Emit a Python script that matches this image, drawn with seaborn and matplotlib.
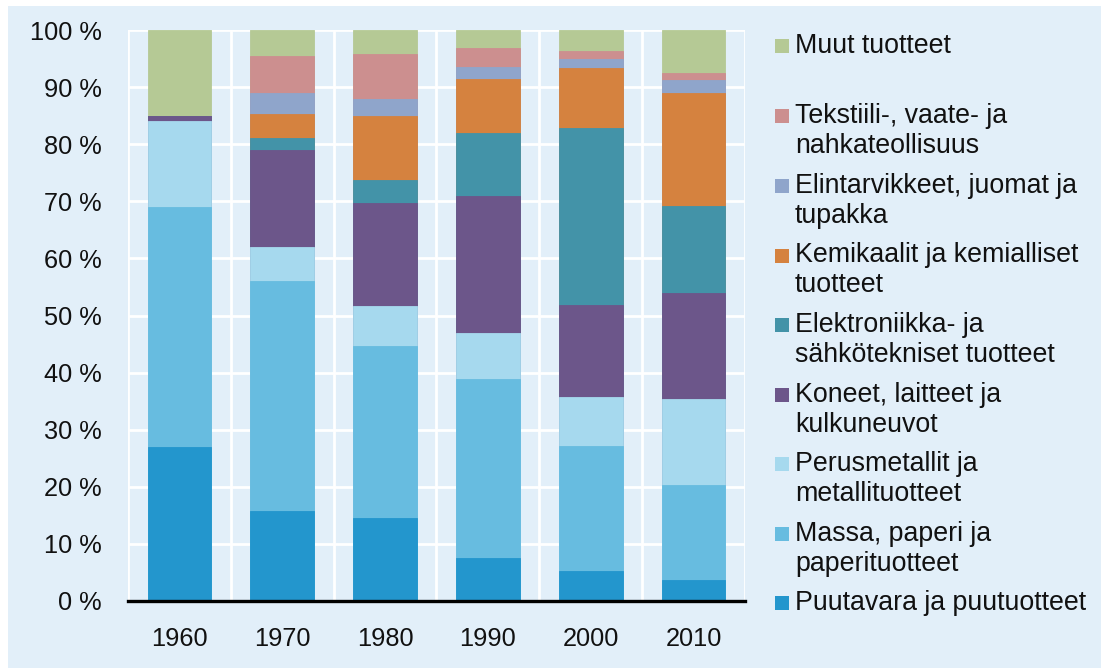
import matplotlib
matplotlib.use("Agg")
import matplotlib.pyplot as plt
import seaborn as sns
import numpy as np
import pandas as pd
from matplotlib.patches import Rectangle

years = ["1960", "1970", "1980", "1990", "2000", "2010"]

# series, bottom to top
puutavara = [27.0, 15.8, 14.6, 7.6, 5.3, 3.7]
massa = [42.0, 40.2, 30.0, 31.3, 21.8, 16.7]
perusmetallit = [15.0, 6.0, 7.1, 8.1, 8.6, 14.9]
koneet = [1.0, 17.0, 18.0, 24.0, 16.1, 18.7]
elektroniikka = [0.0, 2.0, 4.0, 11.0, 31.1, 15.2]
kemikaalit = [0.0, 4.3, 11.3, 9.4, 10.4, 19.8]
elintarvikkeet = [0.0, 3.6, 3.0, 2.2, 1.7, 2.3]
tekstiili = [0.0, 6.6, 7.8, 3.3, 1.4, 1.2]
muut = [15.0, 4.5, 4.2, 3.1, 3.6, 7.5]

labels = [
    "Puutavara ja puutuotteet",
    "Massa, paperi ja\npaperituotteet",
    "Perusmetallit ja\nmetallituotteet",
    "Koneet, laitteet ja\nkulkuneuvot",
    "Elektroniikka- ja\nsähkötekniset tuotteet",
    "Kemikaalit ja kemialliset\ntuotteet",
    "Elintarvikkeet, juomat ja\ntupakka",
    "Tekstiili-, vaate- ja\nnahkateollisuus",
    "Muut tuotteet",
]
series = [puutavara, massa, perusmetallit, koneet, elektroniikka,
          kemikaalit, elintarvikkeet, tekstiili, muut]
colors = ["#2396CD", "#67BCE0", "#A6D9EE", "#6C568A", "#4393A8",
          "#D5823F", "#8FA5CB", "#CC8F8F", "#B5C995"]

bg = "#E2EFF9"

sns.set_theme(style="white")
plt.rcParams["font.family"] = ["Liberation Sans", "DejaVu Sans"]

fig = plt.figure(figsize=(11.01, 6.68), dpi=100)
fig.patch.set_facecolor("white")
fig.add_artist(Rectangle((8 / 1101, 0), 1 - 8 / 1101, 1 - 6 / 668,
                         transform=fig.transFigure, facecolor=bg,
                         edgecolor="none", zorder=-10))

W, H = 1101, 668
left, right, top, bottom = 128, 745, 30, 601
ax = fig.add_axes([left / W, 1 - bottom / H, (right - left) / W, (bottom - top) / H])
ax.set_facecolor(bg)

cum = np.cumsum(np.array(series), axis=0)
for i in range(len(series) - 1, -1, -1):
    df = pd.DataFrame({"year": years, "value": cum[i]})
    sns.barplot(data=df, x="year", y="value", color=colors[i], width=0.62,
                saturation=1, ax=ax, edgecolor=colors[i], linewidth=0.6,
                zorder=3)

ax.set_ylim(0, 100)
ax.set_xlim(-0.5, len(years) - 0.5)
ax.set_yticks(np.arange(0, 101, 10))
ax.set_yticklabels([f"{v} %" for v in range(0, 101, 10)])
ax.set_xlabel("")
ax.set_ylabel("")

for yv in range(10, 101, 10):
    ax.axhline(yv, color="white", lw=2.0, zorder=1)
for xv in np.arange(-0.5, len(years), 1.0):
    ax.axvline(xv, color="white", lw=2.0, zorder=1)

for s in ["top", "right", "left"]:
    ax.spines[s].set_visible(False)
ax.spines["bottom"].set_color("black")
ax.spines["bottom"].set_linewidth(2.4)
ax.spines["bottom"].set_zorder(5)
ax.tick_params(axis="both", length=0, labelsize=18.3, colors="#111111")
ax.tick_params(axis="y", pad=19)
ax.tick_params(axis="x", pad=19)

# legend (top entry first)
ys = [46, 116, 186, 255.5, 325, 394.5, 464, 534, 603]
for k, yc in enumerate(ys):
    idx = len(series) - 1 - k
    fig.add_artist(Rectangle((775 / W, 1 - (yc + 7) / H), 14 / W, 14 / H,
                             transform=fig.transFigure, facecolor=colors[idx],
                             edgecolor="none"))
    fig.text(795 / W, 1 - (yc - 13) / H, labels[idx], fontsize=19.3,
             va="top", ha="left", linespacing=1.2, color="#111111")

fig.savefig("out.png", dpi=100, facecolor=fig.get_facecolor())
